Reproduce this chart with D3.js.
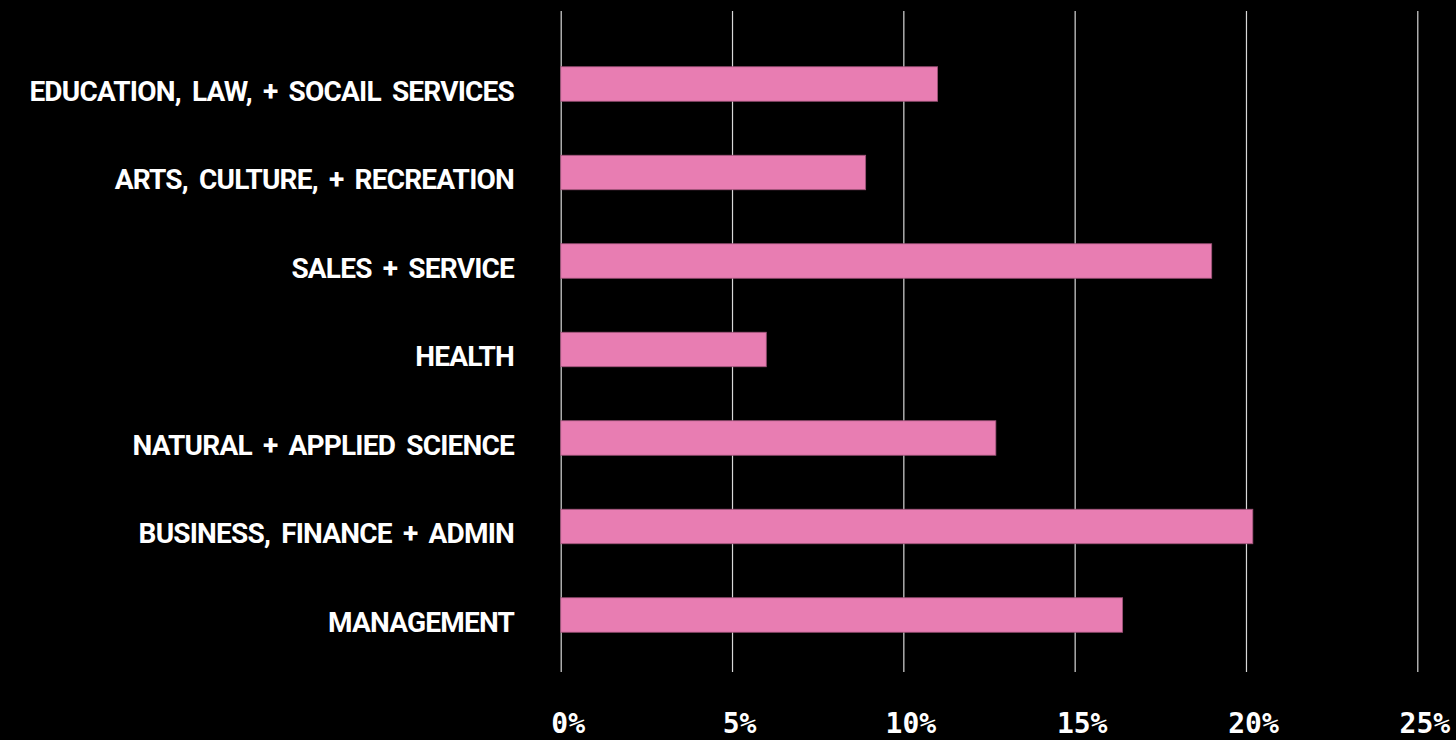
<!DOCTYPE html>
<html>
<head>
<meta charset="utf-8">
<script src="https://cdn.jsdelivr.net/npm/d3@7"></script>
<style>
  html, body { margin: 0; padding: 0; background: #000; }
  svg { display: block; }
</style>
</head>
<body>
<svg id="chart" width="1456" height="740"></svg>
<script>
// Share of workers by occupation group (%)
const categories = [
  "EDUCATION, LAW, + SOCAIL SERVICES",
  "ARTS, CULTURE, + RECREATION",
  "SALES + SERVICE",
  "HEALTH",
  "NATURAL + APPLIED SCIENCE",
  "BUSINESS, FINANCE + ADMIN",
  "MANAGEMENT"
];
const shares = [11.0, 8.9, 19.0, 6.0, 12.7, 20.2, 16.4];
const tickValues = [0, 5, 10, 15, 20, 25];
const tickLabels = ["0%", "5%", "10%", "15%", "20%", "25%"];

const svg = d3.select("#chart");
svg.append("rect").attr("width", 1456).attr("height", 740).attr("fill", "#000");

const x = d3.scaleLinear().domain([0, 25]).range([560.7, 1417.3]);
const y = d3.scaleBand()
  .domain(categories)
  .range([39.75, 659.25])
  .paddingInner(0.61)
  .paddingOuter(0.305);

const gridTop = 11, gridBottom = 672;

// vertical gridlines and percentage labels
const axis = d3.axisBottom(x)
  .tickValues(tickValues)
  .tickFormat((d, i) => tickLabels[i])
  .tickSize(-(gridBottom - gridTop))
  .tickPadding(0);

const gx = svg.append("g")
  .attr("transform", `translate(0,${gridBottom})`)
  .call(axis);
gx.select(".domain").remove();
gx.selectAll(".tick line")
  .attr("stroke", "#d8d8d8")
  .attr("stroke-width", 1.2);
gx.selectAll(".tick text")
  .attr("fill", "#fff")
  .attr("y", 0)
  .attr("dy", 0)
  .attr("dx", 7)
  .attr("transform", "translate(0,61)")
  .style("font-family", "'DejaVu Sans Mono', monospace")
  .style("font-weight", "bold")
  .style("font-size", "28px")
  .attr("text-anchor", "middle");

// bars
svg.append("g")
  .selectAll("rect")
  .data(shares)
  .join("rect")
  .attr("x", x(0))
  .attr("y", (d, i) => y(categories[i]))
  .attr("width", d => x(d) - x(0))
  .attr("height", y.bandwidth())
  .attr("fill", "#e87db2")
  .attr("stroke", "#9c5277")
  .attr("stroke-width", 0.8);

// category labels
svg.append("g")
  .selectAll("text")
  .data(categories)
  .join("text")
  .attr("x", 514)
  .attr("y", d => y(d) + y.bandwidth() / 2 + 16.5)
  .attr("text-anchor", "end")
  .attr("fill", "#fff")
  .style("font-family", "Roboto, sans-serif")
  .style("font-weight", "bold")
  .style("font-size", "28px")
  .style("letter-spacing", "-0.8px")
  .style("word-spacing", "5px")
  .text(d => d);
</script>
</body>
</html>
